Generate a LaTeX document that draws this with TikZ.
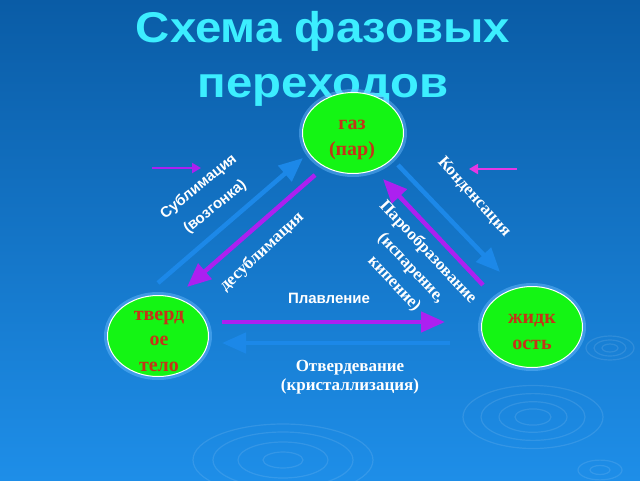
\documentclass[tikz,border=0pt]{standalone}
\usepackage{fontspec}
\setmainfont{Liberation Serif}
\setsansfont{Liberation Sans}
\newfontfamily\titlefont{Liberation Sans}[FakeStretch=1.1]
\usetikzlibrary{arrows.meta,shapes.geometric}
\definecolor{bgtop}{RGB}{10,92,166}
\definecolor{bgbot}{RGB}{30,142,232}
\definecolor{titlecyan}{RGB}{60,238,255}
\definecolor{phasegreen}{RGB}{20,245,20}
\definecolor{phasered}{RGB}{196,52,24}
\definecolor{arrblue}{RGB}{28,136,232}
\definecolor{arrpurple}{RGB}{172,32,240}
\definecolor{arrmagenta}{RGB}{228,56,228}
\definecolor{glow}{RGB}{110,190,255}
\tikzset{
  phase/.style={ellipse, draw=white, line width=1pt, fill=phasegreen,
    minimum width=101pt, minimum height=81pt, inner sep=0pt},
  phasetext/.style={align=center, inner sep=0pt, text=phasered,
    font=\bfseries\fontsize{20}{25.5}\selectfont},
  halo/.style={ellipse, draw=glow, line width=5pt, opacity=0.45,
    minimum width=103pt, minimum height=83pt, inner sep=0pt},
  bigarrow/.style={line width=4.5pt, -{Triangle[length=24pt,width=20pt]}},
  bluearr/.style={bigarrow, draw=arrblue, fill=arrblue},
  purplearr/.style={bigarrow, draw=arrpurple, fill=arrpurple},
  smallarr/.style={line width=2pt, -{Triangle[length=9pt,width=10pt]}},
  lblsans/.style={text=white, font=\sffamily\bfseries\fontsize{15}{26}\selectfont, align=center, inner sep=0pt},
  lblserif/.style={text=white, font=\bfseries\fontsize{17}{23}\selectfont, align=center, inner sep=0pt},
  ripple/.style={draw=white, opacity=0.10, line width=1.2pt}
}
\begin{document}
\begin{tikzpicture}[x=1pt,y=-1pt]
\useasboundingbox (0,0) rectangle (640,480);
\shade[top color=bgtop, bottom color=bgbot] (0,0) rectangle (640,480);
% ripples
\foreach \r in {18,34,52,70}{\draw[ripple] (533,417) ellipse ({\r} and {\r*0.45});}
\foreach \r in {8,16,24}{\draw[ripple] (610,348) ellipse ({\r} and {\r*0.5});}
\foreach \r in {20,45,70,90}{\draw[ripple] (283,460) ellipse ({\r} and {\r*0.4});}
\foreach \r in {10,22}{\draw[ripple] (600,470) ellipse ({\r} and {\r*0.45});}
% title
\node[text=titlecyan, font=\titlefont\bfseries\fontsize{43}{55}\selectfont, align=center, anchor=base] (title) at (323,97) {Схема фазовых\\переходов};
% phases
\node[halo] at (353,133) {};
\node[halo] at (158,336) {};
\node[halo] at (532,327) {};
\node[phase] (gas) at (353,133) {};
\node[phase] (solid) at (158,336) {};
\node[phase] (liquid) at (532,327) {};
\node[phasetext] (gastxt) at (352,140) {газ\\(пар)};
\node[phasetext] (solidtxt) at (159,341) {тверд\\ое\\тело};
\node[phasetext] (liquidtxt) at (532,332) {жидк\\ость};
% arrow end points
\coordinate (subA) at (158,283); \coordinate (subB) at (303,158);
\coordinate (desA) at (315,175); \coordinate (desB) at (187,287);
\coordinate (conA) at (398,165); \coordinate (conB) at (500,272);
\coordinate (vapA) at (483,285); \coordinate (vapB) at (383,179);
\coordinate (melA) at (222,322); \coordinate (melB) at (445,322);
\coordinate (crsA) at (450,343); \coordinate (crsB) at (222,343);
\coordinate (smlA) at (152,168); \coordinate (smlB) at (201,168);
\coordinate (smrA) at (517,169); \coordinate (smrB) at (469,169);
\draw[bluearr] (subA) -- (subB);
\draw[purplearr] (desA) -- (desB);
\draw[bluearr] (conA) -- (conB);
\draw[purplearr] (vapA) -- (vapB);
\draw[purplearr] (melA) -- (melB);
\draw[bluearr] (crsA) -- (crsB);
\draw[smallarr, draw=arrpurple, fill=arrpurple] (smlA) -- (smlB);
\draw[smallarr, draw=arrmagenta, fill=arrmagenta] (smrA) -- (smrB);
% labels
\node[lblsans, rotate=39] (lsub) at (207,197) {Сублимация\\(возгонка)};
\node[lblserif, rotate=43] (ldes) at (262,252) {десублимация};
\node[lblserif, rotate=-48] (lcon) at (474,197) {Конденсация};
\node[lblserif, rotate=-47] (lvap) at (411,268) {Парообразование\\(испарение,\\кипение)};
\node[lblsans] (lmel) at (329,298) {Плавление};
\node[lblserif, font=\bfseries\fontsize{17}{19}\selectfont] (lcrs) at (350,377) {Отвердевание\\(кристаллизация)};
\end{tikzpicture}
\end{document}
